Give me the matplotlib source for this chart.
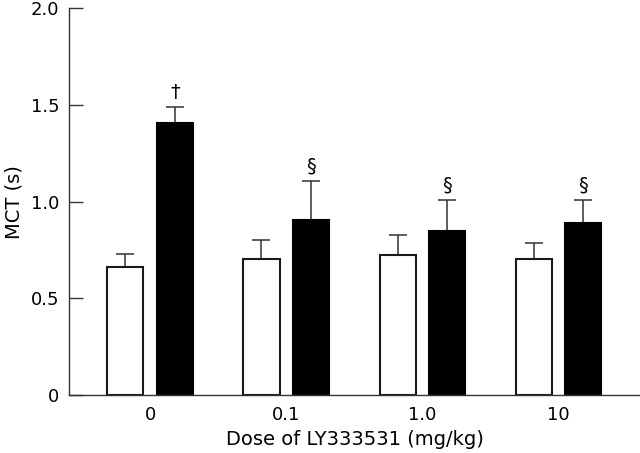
import matplotlib
matplotlib.use('Agg')
import matplotlib.pyplot as plt
import numpy as np

doses = ['0', '0.1', '1.0', '10']
control = [0.663, 0.701, 0.722, 0.701]
control_err = [0.066, 0.100, 0.103, 0.085]
treated = [1.404, 0.904, 0.849, 0.887]
treated_err = [0.083, 0.202, 0.157, 0.119]
marks = ['†', '§', '§', '§']

plt.rcParams['font.family'] = ['DejaVu Sans']
fig = plt.figure(figsize=(6.4, 4.53), dpi=100)
ax = fig.add_axes([0.108, 0.128, 0.892, 0.854])

x = np.arange(len(doses))
w = 0.265
off = 0.182
ax.bar(x - off, control, w, color='white', edgecolor='#1a1a1a', linewidth=1.5, zorder=2)
ax.bar(x + off, treated, w, color='black', edgecolor='black', linewidth=1.5, zorder=2)
ekw = dict(fmt='none', ecolor='#333333', elinewidth=1.1, capsize=6.5, capthick=1.1, zorder=1)
ax.errorbar(x - off, control, yerr=[np.zeros(4), control_err], **ekw)
ax.errorbar(x + off, treated, yerr=[np.zeros(4), treated_err], **ekw)

for xi, t, e, m in zip(x, treated, treated_err, marks):
    ax.text(xi + off, t + e + 0.03, m, ha='center', va='bottom', fontsize=14, color='black')

ax.set_xlim(-0.596, 3.6)
ax.set_ylim(0, 2.0)
ax.set_xticks(x)
ax.set_xticklabels(doses)
ax.set_yticks([0, 0.5, 1.0, 1.5, 2.0])
ax.set_yticklabels(['0', '0.5', '1.0', '1.5', '2.0'])
ax.tick_params(axis='x', length=0, pad=8, labelsize=13)
ax.tick_params(axis='y', direction='in', length=10, width=1, pad=7, labelsize=13, color='#333333')
for s in ['top', 'right']:
    ax.spines[s].set_visible(False)
for s in ['left', 'bottom']:
    ax.spines[s].set_color('#333333')
    ax.spines[s].set_linewidth(1)
ax.set_xlabel('Dose of LY333531 (mg/kg)', fontsize=14, labelpad=4)
ax.set_ylabel('MCT (s)', fontsize=14, labelpad=5)

fig.savefig('out.png', dpi=100)
